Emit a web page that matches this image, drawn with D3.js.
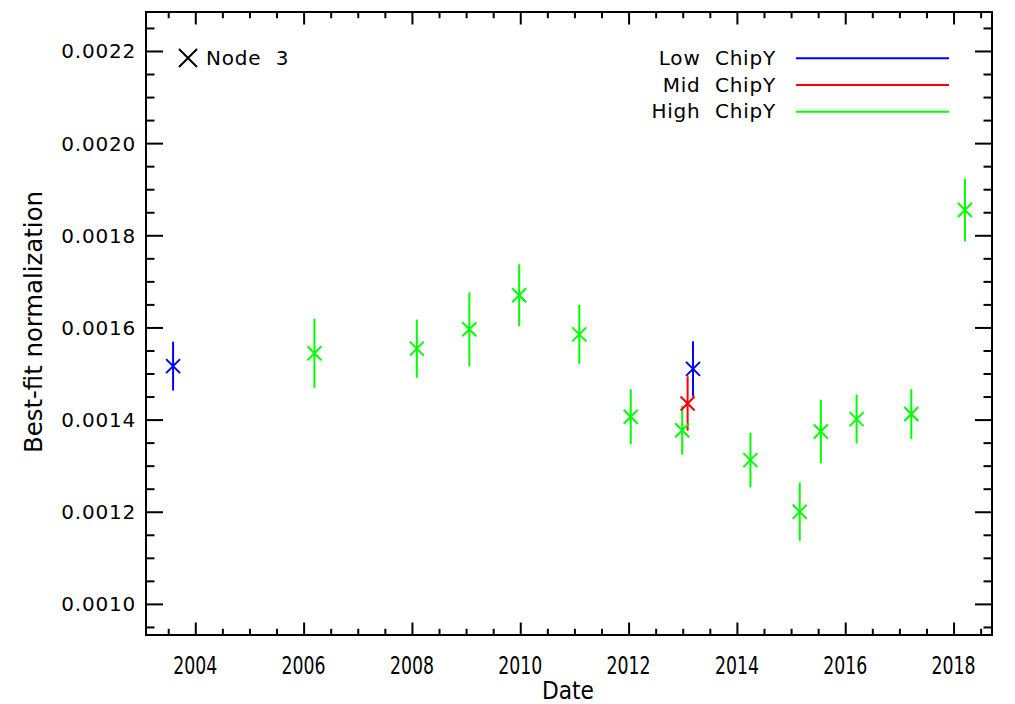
<!DOCTYPE html>
<html>
<head>
<meta charset="utf-8">
<script src="https://cdn.jsdelivr.net/npm/d3@7"></script>
<style>
body { margin: 0; background: #ffffff; }
svg text { font-family: "DejaVu Sans", sans-serif; fill: #000; }
.narrow { font-family: "DejaVu Sans Condensed", "Liberation Sans Narrow", "DejaVu Sans", sans-serif; }
</style>
</head>
<body>
<script>
// observation dates (decimal year), best-fit normalization and 1-sigma error
var dates = [2006.20, 2008.09, 2009.06, 2009.98, 2011.09, 2012.04, 2012.99, 2014.25, 2015.16, 2015.55, 2016.21, 2017.22, 2018.21,
             2013.09,
             2003.59, 2013.19];
var norms = [0.001544, 0.001554, 0.001596, 0.001670, 0.001585, 0.001406, 0.001377, 0.001312, 0.001200, 0.001374, 0.001401, 0.001412, 0.001855,
             0.001435,
             0.001516, 0.001510];
var errs  = [0.000075, 0.000063, 0.000080, 0.000067, 0.000064, 0.000060, 0.000053, 0.000059, 0.000063, 0.000069, 0.000053, 0.000054, 0.000068,
             0.000059,
             0.000053, 0.000060];
var chips = [2, 2, 2, 2, 2, 2, 2, 2, 2, 2, 2, 2, 2,
             1,
             0, 0];

var chipNames = ["Low  ChipY", "Mid  ChipY", "High  ChipY"];
var chipColors = ["#0000ff", "#ff0000", "#00ff00"];

var xTicks = [2004, 2006, 2008, 2010, 2012, 2014, 2016, 2018];
var xMinor = [2003.5, 2004.5, 2005, 2005.5, 2006.5, 2007, 2007.5, 2008.5, 2009, 2009.5, 2010.5, 2011, 2011.5,
              2012.5, 2013, 2013.5, 2014.5, 2015, 2015.5, 2016.5, 2017, 2017.5, 2018.5];
var yTicks = [0.0010, 0.0012, 0.0014, 0.0016, 0.0018, 0.0020, 0.0022];
var yMinor = [0.00095, 0.00105, 0.0011, 0.00115, 0.00125, 0.0013, 0.00135, 0.00145, 0.0015, 0.00155,
              0.00165, 0.0017, 0.00175, 0.00185, 0.0019, 0.00195, 0.00205, 0.0021, 0.00215, 0.00225];

var W = 1015, H = 704;
var box = {left: 146, right: 992, top: 12, bottom: 635};

var svg = d3.select("body").append("svg")
    .attr("width", W)
    .attr("height", H);

var x = d3.scaleLinear().domain([2003.09, 2018.71]).range([box.left, box.right]);
var y = d3.scaleLinear().domain([0.0009325, 0.0022846]).range([box.bottom, box.top]);

var xLen = 12.5, yLen = 17;

function drawAxis(axis, tr) {
    var g = svg.append("g").attr("transform", tr).call(axis);
    g.select(".domain").remove();
    g.selectAll("line").attr("stroke", "#000").attr("stroke-width", 2);
    return g;
}

// bottom / top
drawAxis(d3.axisBottom(x).tickValues(xTicks).tickSize(-xLen).tickFormat(""), "translate(0," + box.bottom + ")");
drawAxis(d3.axisBottom(x).tickValues(xMinor).tickSize(-xLen / 2).tickFormat(""), "translate(0," + box.bottom + ")");
drawAxis(d3.axisTop(x).tickValues(xTicks).tickSize(-xLen).tickFormat(""), "translate(0," + box.top + ")");
drawAxis(d3.axisTop(x).tickValues(xMinor).tickSize(-xLen / 2).tickFormat(""), "translate(0," + box.top + ")");
// left / right
drawAxis(d3.axisLeft(y).tickValues(yTicks).tickSize(-yLen).tickFormat(""), "translate(" + box.left + ",0)");
drawAxis(d3.axisLeft(y).tickValues(yMinor).tickSize(-yLen / 2).tickFormat(""), "translate(" + box.left + ",0)");
drawAxis(d3.axisRight(y).tickValues(yTicks).tickSize(-yLen).tickFormat(""), "translate(" + box.right + ",0)");
drawAxis(d3.axisRight(y).tickValues(yMinor).tickSize(-yLen / 2).tickFormat(""), "translate(" + box.right + ",0)");

svg.append("rect")
    .attr("x", box.left).attr("y", box.top)
    .attr("width", box.right - box.left).attr("height", box.bottom - box.top)
    .attr("fill", "none").attr("stroke", "#000").attr("stroke-width", 2);

// tick labels
svg.selectAll(".xlab").data(xTicks).enter().append("text")
    .attr("class", "xlab narrow")
    .attr("x", function(d){ return x(d); })
    .attr("y", 674)
    .attr("text-anchor", "middle")
    .attr("font-size", 24)
    .attr("textLength", 44)
    .attr("lengthAdjust", "spacingAndGlyphs")
    .text(function(d){ return d; });

svg.selectAll(".ylab").data(yTicks).enter().append("text")
    .attr("class", "ylab")
    .attr("x", 136)
    .attr("y", function(d){ return y(d) + 7.5; })
    .attr("text-anchor", "end")
    .attr("font-size", 20)
    .attr("letter-spacing", 0.8)
    .text(function(d){ return d.toFixed(4); });

svg.append("text")
    .attr("class", "narrow")
    .attr("x", 568).attr("y", 699)
    .attr("text-anchor", "middle")
    .attr("font-size", 24)
    .attr("textLength", 52)
    .attr("lengthAdjust", "spacingAndGlyphs")
    .text("Date");

svg.append("text")
    .attr("class", "narrow")
    .attr("transform", "translate(42,322) rotate(-90)")
    .attr("text-anchor", "middle")
    .attr("font-size", 24)
    .attr("textLength", 262)
    .attr("lengthAdjust", "spacingAndGlyphs")
    .text("Best-fit normalization");

// X symbol
function cross(s) {
    return "M" + (-s) + "," + (-s) + "L" + s + "," + s + "M" + (-s) + "," + s + "L" + s + "," + (-s);
}

var pts = svg.append("g");
var idx = d3.range(dates.length);

pts.selectAll(".ebar").data(idx).enter().append("line")
    .attr("x1", function(i){ return x(dates[i]); })
    .attr("x2", function(i){ return x(dates[i]); })
    .attr("y1", function(i){ return y(norms[i] - errs[i]); })
    .attr("y2", function(i){ return y(norms[i] + errs[i]); })
    .attr("stroke", function(i){ return chipColors[chips[i]]; })
    .attr("stroke-width", 2);

pts.selectAll(".mark").data(idx).enter().append("path")
    .attr("transform", function(i){ return "translate(" + x(dates[i]) + "," + y(norms[i]) + ")"; })
    .attr("d", cross(7))
    .attr("fill", "none")
    .attr("stroke", function(i){ return chipColors[chips[i]]; })
    .attr("stroke-width", 2);

// node label
svg.append("path")
    .attr("transform", "translate(188,58)")
    .attr("d", cross(9))
    .attr("fill", "none").attr("stroke", "#000").attr("stroke-width", 2);
svg.append("text")
    .attr("x", 206).attr("y", 65)
    .attr("font-size", 20)
    .attr("letter-spacing", 0.8)
    .style("white-space", "pre")
    .text("Node  3");

// legend
var leg = svg.append("g");
chipNames.forEach(function(name, i) {
    var by = 65 + i * 26.7;
    leg.append("text")
        .attr("x", 776).attr("y", by)
        .attr("text-anchor", "end")
        .attr("font-size", 20)
        .attr("letter-spacing", 0.8)
        .style("white-space", "pre")
        .text(name);
    leg.append("line")
        .attr("x1", 796).attr("x2", 949)
        .attr("y1", by - 6.7).attr("y2", by - 6.7)
        .attr("stroke", chipColors[i])
        .attr("stroke-width", 2);
});
</script>
</body>
</html>
